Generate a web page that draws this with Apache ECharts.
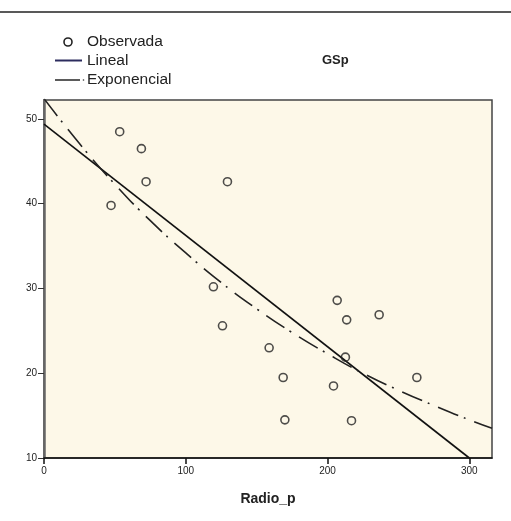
<!DOCTYPE html>
<html>
<head>
<meta charset="utf-8">
<script src="https://cdn.jsdelivr.net/npm/echarts@6/dist/echarts.min.js"></script>
<style>
  html, body { margin: 0; padding: 0; background: #fff; }
  #chart { width: 511px; height: 521px; }
</style>
</head>
<body>
<div id="chart"></div>
<script>
const radioP = [53.4, 68.7, 72.0, 47.3, 129.4, 119.5, 125.9, 158.8, 168.7, 169.9, 206.8, 213.5, 212.6, 204.2, 236.4, 263.0, 216.9];
const gsp = [48.5, 46.5, 42.6, 39.8, 42.6, 30.2, 25.6, 23.0, 19.5, 14.5, 28.6, 26.3, 21.9, 18.5, 26.9, 19.5, 14.4];

// fitted lines, as drawn
const linealX = [0, 300];
const linealY = [49.4, 10];
const expX = [0, 25, 50, 75, 100, 125, 150, 175, 200, 225, 250, 275, 300, 316];
const expY = [52.4, 47.1, 42.3, 38.0, 34.2, 30.7, 27.6, 24.8, 22.3, 20.0, 18.0, 16.2, 14.5, 13.5];

const xTicks = [0, 100, 200, 300];
const yTicks = [10, 20, 30, 40, 50];

const zip = (xs, ys) => xs.map((x, i) => [x, ys[i]]);
const FONT = "Liberation Sans, Arial, sans-serif";
const DASHDOT = [22, 6, 2, 9];

const chart = echarts.init(document.getElementById("chart"));

/** @type {echarts.EChartsOption} */
const options = {
  backgroundColor: "#fff",
  animation: false,
  grid: {
    left: 44,
    right: 19,
    top: 100,
    bottom: 63,
    show: true,
    backgroundColor: "#fdf8e8",
    borderColor: "#444",
    borderWidth: 1.5,
  },
  xAxis: {
    type: "value",
    min: 0,
    max: 316,
    interval: 100,
    name: "Radio_p",
    nameLocation: "middle",
    nameGap: 34,
    nameTextStyle: { fontFamily: FONT, fontSize: 14, fontWeight: "bold", color: "#222" },
    splitLine: { show: false },
    axisLine: { show: true, lineStyle: { color: "#111", width: 1.5 } },
    axisTick: { show: true, length: 6, customValues: xTicks, lineStyle: { color: "#111", width: 1.5 } },
    axisLabel: {
      margin: 8,
      fontFamily: FONT,
      fontSize: 10,
      color: "#222",
      customValues: xTicks,
    },
  },
  yAxis: {
    type: "value",
    min: 10,
    max: 52.24,
    interval: 10,
    splitLine: { show: false },
    axisLine: { show: true, lineStyle: { color: "#666", width: 2.5 } },
    axisTick: { show: true, length: 6, customValues: yTicks, lineStyle: { color: "#333", width: 1 } },
    axisLabel: {
      margin: 7,
      fontFamily: FONT,
      fontSize: 10,
      color: "#222",
      customValues: yTicks,
    },
  },
  series: [
    {
      name: "Lineal",
      type: "line",
      data: zip(linealX, linealY),
      showSymbol: false,
      lineStyle: { color: "#111", width: 1.6 },
      z: 2,
    },
    {
      name: "Exponencial",
      type: "line",
      data: zip(expX, expY),
      smooth: true,
      showSymbol: false,
      lineStyle: { color: "#222", width: 1.6, type: DASHDOT },
      z: 2,
    },
    {
      name: "Observada",
      type: "scatter",
      data: zip(radioP, gsp),
      symbol: "circle",
      symbolSize: 8,
      itemStyle: { color: "rgba(0,0,0,0)", borderColor: "#222", borderWidth: 1.6 },
      z: 3,
    },
  ],
  graphic: [
    // rule at the top of the page
    { type: "line", shape: { x1: 0, y1: 12, x2: 511, y2: 12 }, style: { stroke: "#222", lineWidth: 1.5 } },
    // legend
    { type: "circle", shape: { cx: 68, cy: 42, r: 4 }, style: { fill: "none", stroke: "#222", lineWidth: 1.6 } },
    { type: "text", left: 87, top: 34, style: { text: "Observada", font: `15.5px ${FONT}`, fill: "#222" } },
    { type: "line", shape: { x1: 55, y1: 60.5, x2: 82, y2: 60.5 }, style: { stroke: "#2c2c5e", lineWidth: 2 } },
    { type: "text", left: 87, top: 53, style: { text: "Lineal", font: `15.5px ${FONT}`, fill: "#222" } },
    { type: "line", shape: { x1: 55, y1: 80, x2: 80, y2: 80 }, style: { stroke: "#333", lineWidth: 1.6 } },
    { type: "circle", shape: { cx: 83.5, cy: 80, r: 0.8 }, style: { fill: "#333" } },
    { type: "text", left: 87, top: 72, style: { text: "Exponencial", font: `15.5px ${FONT}`, fill: "#222" } },
    // title
    { type: "text", left: 322, top: 54, style: { text: "GSp", font: `bold 13px ${FONT}`, fill: "#222" } },
  ],
};

chart.setOption(options);
</script>
</body>
</html>
